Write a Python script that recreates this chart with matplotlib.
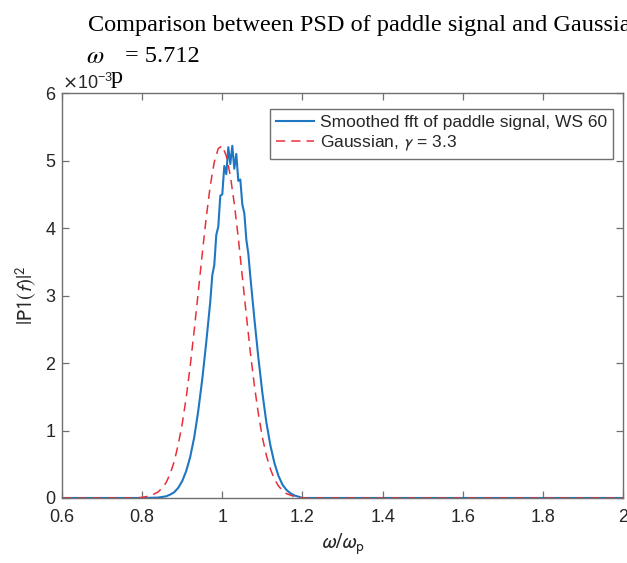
import matplotlib
matplotlib.use("Agg")
from matplotlib import pyplot as plt
from matplotlib.ticker import FuncFormatter
import numpy as np

# smoothed fft of paddle signal (values in units of 1e-3)
fft_x = [0.6, 0.80, 0.84, 0.86, 0.87, 0.88, 0.89, 0.90, 0.91, 0.92, 0.93, 0.94, 0.95,
         0.96, 0.97, 0.975, 0.980, 0.985, 0.990, 0.995, 1.000, 1.005, 1.010, 1.015,
         1.020, 1.025, 1.030, 1.035, 1.040, 1.045, 1.050, 1.055, 1.060, 1.065, 1.07,
         1.08, 1.09, 1.10, 1.11, 1.12, 1.13, 1.14, 1.15, 1.16, 1.17, 1.18, 1.19, 1.20, 2.0]
fft_y = [0.0, 0.0, 0.006, 0.025, 0.05, 0.085, 0.15, 0.25, 0.40, 0.61, 0.90, 1.29, 1.76,
         2.31, 2.91, 3.30, 3.45, 3.90, 4.02, 4.48, 4.50, 4.92, 4.80, 5.20,
         4.95, 5.22, 4.88, 5.10, 4.70, 4.72, 4.35, 4.22, 3.83, 3.62, 3.28,
         2.66, 2.08, 1.56, 1.12, 0.78, 0.52, 0.33, 0.20, 0.12, 0.07, 0.037, 0.02, 0.0, 0.0]

# gaussian, gamma = 3.3 (values in units of 1e-3)
gauss_x = [0.6, 0.78, 0.80, 0.82, 0.84, 0.85, 0.86, 0.87, 0.88, 0.89, 0.90, 0.91, 0.92,
           0.93, 0.94, 0.95, 0.96, 0.97, 0.98, 0.99, 1.00, 1.01, 1.02, 1.03, 1.04,
           1.05, 1.06, 1.07, 1.08, 1.09, 1.10, 1.11, 1.12, 1.13, 1.14, 1.15, 1.16,
           1.18, 1.20, 2.0]
gauss_y = [0.0, 0.0, 0.009, 0.03, 0.09, 0.15, 0.23, 0.36, 0.54, 0.79, 1.10, 1.49, 1.96,
           2.49, 3.05, 3.62, 4.16, 4.63, 4.98, 5.18, 5.22, 5.07, 4.78, 4.36, 3.85,
           3.28, 2.71, 2.16, 1.67, 1.25, 0.90, 0.63, 0.43, 0.28, 0.18, 0.11, 0.065,
           0.02, 0.0, 0.0]

x_ticks = [0.6, 0.8, 1.0, 1.2, 1.4, 1.6, 1.8, 2.0]
y_ticks = [0, 1, 2, 3, 4, 5, 6]

scale = 1e-3
axis_grey = '#707070'
text_grey = '#262626'

fig = plt.figure(figsize=(6.27, 5.63), dpi=100)
ax = fig.add_axes([0.0989, 0.1155, 0.8947, 0.719])

ax.plot(fft_x, np.array(fft_y) * scale, color='#1f77c4', lw=1.5,
        label='Smoothed fft of paddle signal, WS 60')
ax.plot(gauss_x, np.array(gauss_y) * scale, color='#e8303a', lw=1.1,
        ls=(0, (6, 4)), label=r'Gaussian, $\gamma$ = 3.3')

ax.set_xlim(0.6, 2.0)
ax.set_ylim(0, 6 * scale)
ax.set_xticks(x_ticks)
ax.set_yticks(np.array(y_ticks) * scale)
ax.xaxis.set_major_formatter(FuncFormatter(lambda v, p: '%g' % v))
ax.ticklabel_format(axis='y', style='sci', scilimits=(0, 0), useMathText=True)

for s in ax.spines.values():
    s.set_color(axis_grey)
    s.set_linewidth(1.0)
ax.tick_params(direction='in', top=True, right=True, length=5, width=0.9,
               color=axis_grey, labelcolor=text_grey, labelsize=13,
               labelfontfamily='Liberation Sans')
ax.tick_params(axis='x', pad=8)
ax.tick_params(axis='y', pad=4)

off = ax.yaxis.get_offset_text()
off.set_fontsize(13)
off.set_family('Liberation Sans')
off.set_color(text_grey)
off.set_x(0.0)

ax.set_ylabel(r'$|\mathrm{P1}(f)|^2$', fontsize=15, color=text_grey, labelpad=4)
ax.set_xlabel(r'$\omega/\omega_\mathrm{p}$', fontsize=16, color=text_grey, labelpad=4)
ax.yaxis.label.set_math_fontfamily('stixsans')
ax.xaxis.label.set_math_fontfamily('stixsans')

leg = ax.legend(loc='upper right', bbox_to_anchor=(0.982, 0.962), borderaxespad=0,
                prop={'family': 'Liberation Sans', 'size': 12.5}, fancybox=False,
                framealpha=1, edgecolor=axis_grey, handlelength=2.2,
                handletextpad=0.3, borderpad=0.35, labelspacing=0.2)
leg.get_frame().set_linewidth(1.0)
for t in leg.get_texts():
    t.set_color(text_grey)
    t.set_math_fontfamily('stixsans')

# title, left aligned and running past the right edge like the original
fig.text(88 / 627, 1 - 25 / 563, 'Comparison between PSD of paddle signal and Gaussian',
         family='Liberation Serif', fontsize=17.5, va='center', ha='left', color='black')
fig.text(86 / 627, 1 - 56 / 563, r'$\omega$', fontsize=18, va='center', ha='left',
         math_fontfamily='stix')
fig.text(111 / 627, 1 - 78 / 563, 'p', family='Liberation Serif', fontsize=17.5,
         va='center', ha='left')
fig.text(125 / 627, 1 - 57 / 563, '= 5.712', family='Liberation Serif', fontsize=17.5,
         va='center', ha='left')

fig.savefig('out.png', dpi=100)
